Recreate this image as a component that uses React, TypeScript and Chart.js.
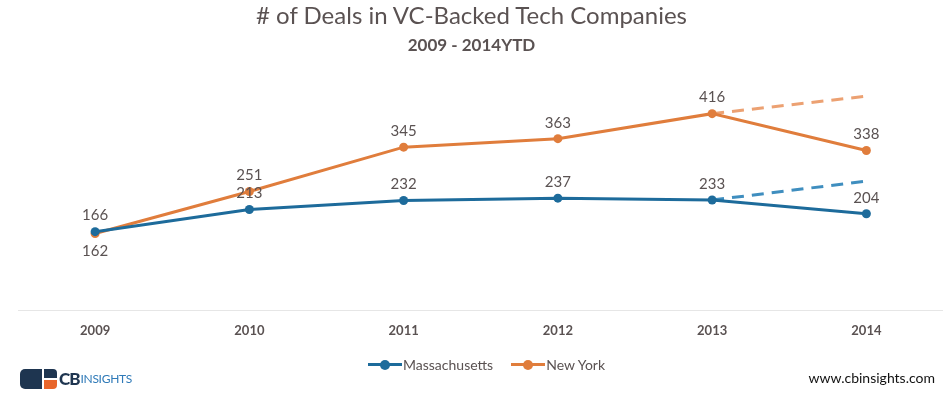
import React, { useEffect, useRef } from "react";
import { Chart, registerables } from "chart.js";

Chart.register(...registerables);

const years = ["2009", "2010", "2011", "2012", "2013", "2014"];
const massachusetts = [166, 213, 232, 237, 233, 204];
const newYork = [162, 251, 345, 363, 416, 338];
const massachusettsProjection = [null, null, null, null, 233, 273];
const newYorkProjection = [null, null, null, null, 416, 453];

const MA_COLOR = "#1d6b9b";
const NY_COLOR = "#e07d3c";
const MA_DASH = "#3f8ebf";
const NY_DASH = "#eca172";
const TEXT = "#5a5252";
const FONT = "Lato, 'Open Sans', sans-serif";

const valueLabels = {
  id: "valueLabels",
  afterDatasetsDraw(chart: any) {
    const ctx = chart.ctx;
    ctx.save();
    ctx.font = `15px ${FONT}`;
    ctx.fillStyle = TEXT;
    ctx.textAlign = "center";
    ctx.textBaseline = "middle";
    [0, 1].forEach((di) => {
      const meta = chart.getDatasetMeta(di);
      const data = chart.data.datasets[di].data;
      meta.data.forEach((pt: any, i: number) => {
        const below = di === 1 && i === 0;
        ctx.fillText(String(data[i]), pt.x, pt.y + (below ? 18 : -16));
      });
    });
    ctx.restore();
  },
};

export default function App() {
  const ref = useRef<HTMLCanvasElement>(null);
  useEffect(() => {
    if (!ref.current) return;
    const chart = new Chart(ref.current, {
      type: "line",
      data: {
        labels: years,
        datasets: [
          {
            label: "Massachusetts",
            data: massachusetts,
            borderColor: MA_COLOR,
            backgroundColor: MA_COLOR,
            borderWidth: 3,
            pointRadius: 4.5,
            pointBackgroundColor: MA_COLOR,
            pointBorderWidth: 0,
            tension: 0,
          },
          {
            label: "New York",
            data: newYork,
            borderColor: NY_COLOR,
            backgroundColor: NY_COLOR,
            borderWidth: 3,
            pointRadius: 4.5,
            pointBackgroundColor: NY_COLOR,
            pointBorderWidth: 0,
            tension: 0,
          },
          {
            label: "Massachusetts projection",
            data: massachusettsProjection,
            borderColor: MA_DASH,
            borderWidth: 3,
            borderDash: [12, 8],
            pointRadius: 0,
            spanGaps: false,
          },
          {
            label: "New York projection",
            data: newYorkProjection,
            borderColor: NY_DASH,
            borderWidth: 3,
            borderDash: [12, 8],
            pointRadius: 0,
            spanGaps: false,
          },
        ],
      },
      options: {
        animation: false,
        responsive: false,
        maintainAspectRatio: false,
        layout: { padding: { top: 74, bottom: 56, left: 18, right: 0 } },
        plugins: {
          legend: { display: false },
          tooltip: { enabled: false },
          title: { display: false },
        },
        scales: {
          x: {
            offset: true,
            grid: { display: false, drawTicks: false },
            border: { display: true, color: "#e6e6e6", width: 1 },
            ticks: {
              padding: 13,
              color: TEXT,
              font: { family: FONT, size: 13, weight: "bold" },
            },
            afterFit: (axis: any) => {
              axis.height = 30;
            },
          },
          y: {
            display: false,
            min: 0,
            max: 500,
          },
        },
      },
      plugins: [valueLabels],
    });
    return () => chart.destroy();
  }, []);

  const legendItem = (color: string, text: string) => (
    <div style={{ display: "flex", alignItems: "center", marginRight: 18 }}>
      <div style={{ position: "relative", width: 34, height: 10 }}>
        <div style={{ position: "absolute", left: 0, top: 3.5, width: 34, height: 3, background: color }} />
        <div style={{ position: "absolute", left: 12, top: 0, width: 10, height: 10, borderRadius: 5, background: color }} />
      </div>
      <span style={{ fontSize: 14, color: TEXT, marginLeft: 1 }}>{text}</span>
    </div>
  );

  return (
    <div style={{ position: "fixed", left: 0, top: 0, width: 943, height: 396, background: "#fff", fontFamily: FONT, overflow: "hidden" }}>
      <canvas ref={ref} width={948} height={396} style={{ position: "absolute", left: 0, top: 0, width: 948, height: 396 }} />
      <div style={{ position: "absolute", left: 0, top: 1, width: 943, textAlign: "center", fontSize: 24, color: TEXT, lineHeight: "28px" }}>
        # of Deals in VC-Backed Tech Companies
      </div>
      <div style={{ position: "absolute", left: 0, top: 34, width: 943, textAlign: "center", fontSize: 17, fontWeight: "bold", color: TEXT, lineHeight: "22px" }}>
        2009 - 2014YTD
      </div>
      <div style={{ position: "absolute", left: 368, top: 356, display: "flex", alignItems: "center" }}>
        {legendItem(MA_COLOR, "Massachusetts")}
        {legendItem(NY_COLOR, "New York")}
      </div>
      <div style={{ position: "absolute", left: 20, top: 368, display: "flex", alignItems: "center" }}>
        <div style={{ position: "relative", width: 37, height: 20 }}>
          <div style={{ position: "absolute", left: 0, top: 0, width: 22, height: 20, background: "#1e3550", borderRadius: "5px 0 0 5px" }} />
          <div style={{ position: "absolute", left: 24, top: 0, width: 13, height: 9, background: "#1e3550", borderRadius: "0 4px 0 0" }} />
          <div style={{ position: "absolute", left: 24, top: 11, width: 13, height: 9, background: "#e8652a", borderRadius: "0 0 4px 0" }} />
        </div>
        <span style={{ marginLeft: 2, fontSize: 17, fontWeight: 900, color: "#1e3550", letterSpacing: -1 }}>CB</span>
        <span style={{ marginLeft: 1, fontSize: 12, color: "#2f7ab8", letterSpacing: -0.3 }}>INSIGHTS</span>
      </div>
      <div style={{ position: "absolute", right: 8, top: 369, fontSize: 14, color: "#111" }}>www.cbinsights.com</div>
    </div>
  );
}
